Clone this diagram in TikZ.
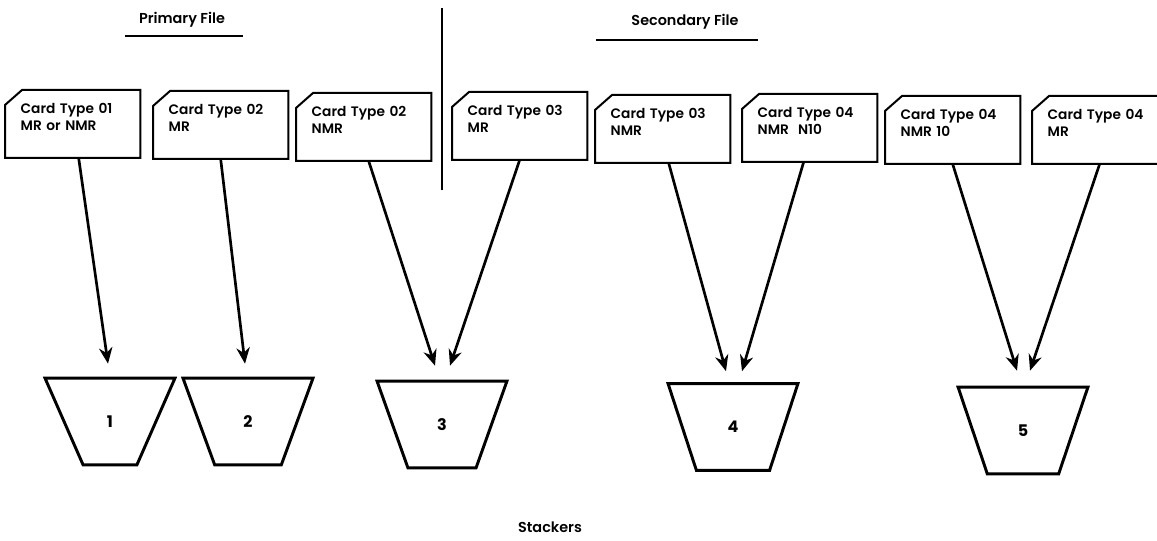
\documentclass[tikz,border=0pt]{standalone}
\usepackage{fontspec}
\setmainfont{Poppins}
\newfontfamily\medfont{Poppins SemiBold}
\usetikzlibrary{shapes.geometric,arrows.meta,calc}
\tikzset{every picture/.style={line width=1.5pt}}

\begin{document}
\begin{tikzpicture}[x=0.75pt,y=-0.75pt,
    card/.style={rectangle, anchor=north west, align=left, text width=78pt,
        inner xsep=11pt, inner ysep=9pt, text height=8pt, text depth=23.5pt,
        font=\medfont\fontsize{10.3}{12.5}\selectfont},
    stacker/.style={trapezium, shape border rotate=180, trapezium angle=70,
        trapezium stretches=true, minimum width=97.5pt, minimum height=65pt,
        draw, line width=2.2pt, inner sep=0pt, font=\bfseries\fontsize{12}{12}\selectfont},
    feed/.style={line width=2pt, -{Stealth[length=12pt,width=10pt]}},
    title/.style={font=\medfont\fontsize{10.8}{13}\selectfont}]
    \useasboundingbox (0,0) rectangle (1157,541);

    \node[title] (primary) at (182,20) {Primary File};
    \node[title] (secondary) at (685,22) {Secondary File};
    \draw[line width=1.9pt] (125,36) -- (243,36);
    \draw[line width=1.9pt] (596,40) -- (758,40);
    \draw (442,8) -- (442,190);

    \node[card] (c1) at (5,90) {Card~Type~01\\MR~or~NMR};
    \node[card] (c2) at (153,91) {Card~Type~02\\MR};
    \node[card] (c3) at (296,93) {Card~Type~02\\NMR};
    \node[card] (c4) at (452,92) {Card~Type~03\\MR};
    \node[card] (c5) at (595,95) {Card~Type~03\\NMR};
    \node[card] (c6) at (742,94) {Card~Type~04\\NMR~~N10};
    \node[card] (c7) at (885,96) {Card~Type~04\\NMR~10};
    \node[card] (c8) at (1032,96) {Card~Type~04\\MR};
    \foreach \c in {c1,c2,c3,c4,c5,c6,c7,c8}
        \draw ($(\c.north west)+(0,15)$) -- ($(\c.north west)+(17,0)$) -- (\c.north east)
            -- (\c.south east) -- (\c.south west) -- cycle;

    \node[stacker] (s1) at (110,421.5) {1};
    \node[stacker] (s2) at (248,421.5) {2};
    \node[stacker] (s3) at (442,424.5) {3};
    \node[stacker] (s4) at (733,427) {4};
    \node[stacker] (s5) at (1023,430.5) {5};

    \draw[feed] ($(c1.south)+(6,0)$) -- ($(s1.north)+(-2,-13)$);
    \draw[feed] (c2.south) -- ($(s2.north)+(-3,-13)$);
    \draw[feed] ($(c3.south)+(5,0)$) -- ($(s3.north)+(-7,-14)$);
    \draw[feed] (c4.south) -- ($(s3.north)+(8,-14)$);
    \draw[feed] ($(c5.south)+(6,0)$) -- ($(s4.north)+(-7,-11)$);
    \draw[feed] ($(c6.south)+(-6,0)$) -- ($(s4.north)+(9,-11)$);
    \draw[feed] (c7.south) -- ($(s5.north)+(-6,-15)$);
    \draw[feed] (c8.south) -- ($(s5.north)+(7,-15)$);

    \node[title] (stackers) at (550,527) {Stackers};
\end{tikzpicture}
\end{document}
